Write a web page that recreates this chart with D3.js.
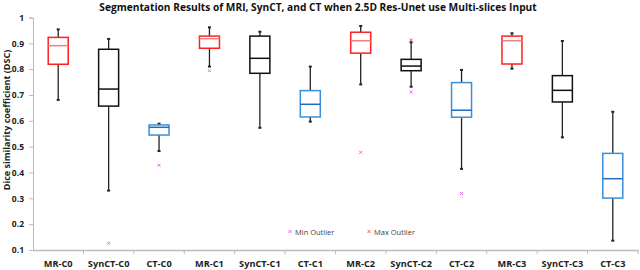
<!DOCTYPE html>
<html><head><meta charset="utf-8">
<script src="https://cdn.jsdelivr.net/npm/d3@7"></script>
<style>body{margin:0;background:#fff}</style>
</head><body><svg id="c" width="640" height="270"></svg>
<script>
const categories = ["MR-C0","SynCT-C0","CT-C0","MR-C1","SynCT-C1","CT-C1","MR-C2","SynCT-C2","CT-C2","MR-C3","SynCT-C3","CT-C3"];
const kinds      = ["MR","SynCT","CT","MR","SynCT","CT","MR","SynCT","CT","MR","SynCT","CT"];
const whiskerMax = [0.954,0.917,0.589,0.962,0.945,0.810,0.967,0.904,0.797,0.939,0.909,0.635];
const q3Values   = [0.923,0.877,0.584,0.928,0.928,0.717,0.943,0.838,0.748,0.928,0.775,0.474];
const medians    = [0.891,0.723,0.575,0.918,0.842,0.664,0.910,0.812,0.641,0.910,0.718,0.376];
const q1Values   = [0.819,0.657,0.545,0.881,0.784,0.615,0.862,0.794,0.614,0.820,0.673,0.301];
const whiskerMin = [0.681,0.330,0.483,0.810,0.573,0.597,0.741,0.732,0.414,0.802,0.536,0.136];
const minOutliers = [{c:"SynCT-C0",v:0.126},{c:"CT-C0",v:0.428},{c:"MR-C1",v:0.794},{c:"MR-C2",v:0.478},{c:"SynCT-C2",v:0.712},{c:"CT-C2",v:0.319}];
const maxOutliers = [{c:"SynCT-C2",v:0.913}];
const yTicks = [0.1,0.2,0.3,0.4,0.5,0.6,0.7,0.8,0.9,1];

const boxColor = {MR:"#ff2020", SynCT:"#111111", CT:"#3a8fd8"};
const medColor = {MR:"#f28080", SynCT:"#111111", CT:"#1f6fbf"};

const svg = d3.select("#c");
const x = d3.scaleBand().domain(categories).range([33, 638]);
const y = d3.scaleLinear().domain([0.1, 1]).range([250, 17.5]);
const font = "'Open Sans', 'Liberation Sans', sans-serif";

svg.append("text").attr("x", 318).attr("y", 11).attr("text-anchor","middle")
  .attr("font-family", font).attr("font-size", 10.2).attr("font-weight","700").attr("fill","#111")
  .text("Segmentation Results of MRI, SynCT, and CT when 2.5D Res-Unet use Multi-slices Input");

const ya = svg.append("g").attr("transform","translate(33,0)")
  .call(d3.axisLeft(y).tickValues(yTicks).tickSize(4).tickPadding(5).tickFormat(d => d === 1 ? "1" : d3.format(".1f")(d)));
ya.select(".domain").attr("stroke","#bbb");
ya.selectAll(".tick line").attr("stroke","#bbb");
ya.selectAll("text").attr("font-family", font).attr("font-size", 8.5).attr("font-weight","700").attr("fill","#222");

svg.append("text").attr("transform","translate(10,120) rotate(-90)").attr("text-anchor","middle")
  .attr("font-family", font).attr("font-size", 9).attr("font-weight","700").attr("fill","#222")
  .text("Dice similarity coefficient (DSC)");

const xa = svg.append("g").attr("transform","translate(0,250)")
  .call(d3.axisBottom(x).tickSize(0).tickPadding(10));
xa.select(".domain").attr("stroke","#bbb").attr("stroke-width",1.5);
xa.selectAll("text").attr("font-family", font).attr("font-size", 9.2).attr("font-weight","700").attr("fill","#222");
xa.selectAll(".bnd").data(categories.slice(1)).enter().append("line")
  .attr("x1", d => x(d)).attr("x2", d => x(d)).attr("y1", 0).attr("y2", 4).attr("stroke","#bbb");
xa.append("line").attr("x1",638).attr("x2",638).attr("y1",0).attr("y2",4).attr("stroke","#bbb");

const bw = 20;
const g = svg.append("g");
categories.forEach((c, i) => {
  const cx = x(c) + x.bandwidth()/2;
  const k = kinds[i];
  g.append("line").attr("x1",cx).attr("x2",cx).attr("y1",y(whiskerMax[i])).attr("y2",y(q3Values[i]))
    .attr("stroke","#222").attr("stroke-width",1.3);
  g.append("line").attr("x1",cx).attr("x2",cx).attr("y1",y(q1Values[i])).attr("y2",y(whiskerMin[i]))
    .attr("stroke","#222").attr("stroke-width",1.3);
  [whiskerMax[i], whiskerMin[i]].forEach(v => {
    g.append("line").attr("x1",cx-1.5).attr("x2",cx+1.5).attr("y1",y(v)).attr("y2",y(v))
      .attr("stroke","#222").attr("stroke-width",2);
  });
  g.append("rect").attr("x",cx-bw/2).attr("y",y(q3Values[i])).attr("width",bw)
    .attr("height",y(q1Values[i])-y(q3Values[i])).attr("fill","#fff")
    .attr("stroke",boxColor[k]).attr("stroke-width",1.5);
  g.append("line").attr("x1",cx-bw/2).attr("x2",cx+bw/2).attr("y1",y(medians[i])).attr("y2",y(medians[i]))
    .attr("stroke",medColor[k]).attr("stroke-width",1.5);
});

function cross(sel, cx, cy, col){
  sel.append("path").attr("d",`M${cx-1.5},${cy-1.5}L${cx+1.5},${cy+1.5}M${cx-1.5},${cy+1.5}L${cx+1.5},${cy-1.5}`)
    .attr("stroke",col).attr("stroke-width",1);
}
minOutliers.forEach(o => cross(g, x(o.c)+x.bandwidth()/2, y(o.v), "#ee66ee"));
maxOutliers.forEach(o => cross(g, x(o.c)+x.bandwidth()/2, y(o.v), "#ff5a6a"));

const lg = svg.append("g");
cross(lg, 290, 231.5, "#ee66ee");
lg.append("text").attr("x",295).attr("y",234.5).attr("font-family",font).attr("font-size",7.5).attr("fill","#444").text("Min Outlier");
cross(lg, 369, 231.5, "#ff5a6a");
lg.append("text").attr("x",374).attr("y",234.5).attr("font-family",font).attr("font-size",7.5).attr("fill","#444").text("Max Outlier");
</script></body></html>
